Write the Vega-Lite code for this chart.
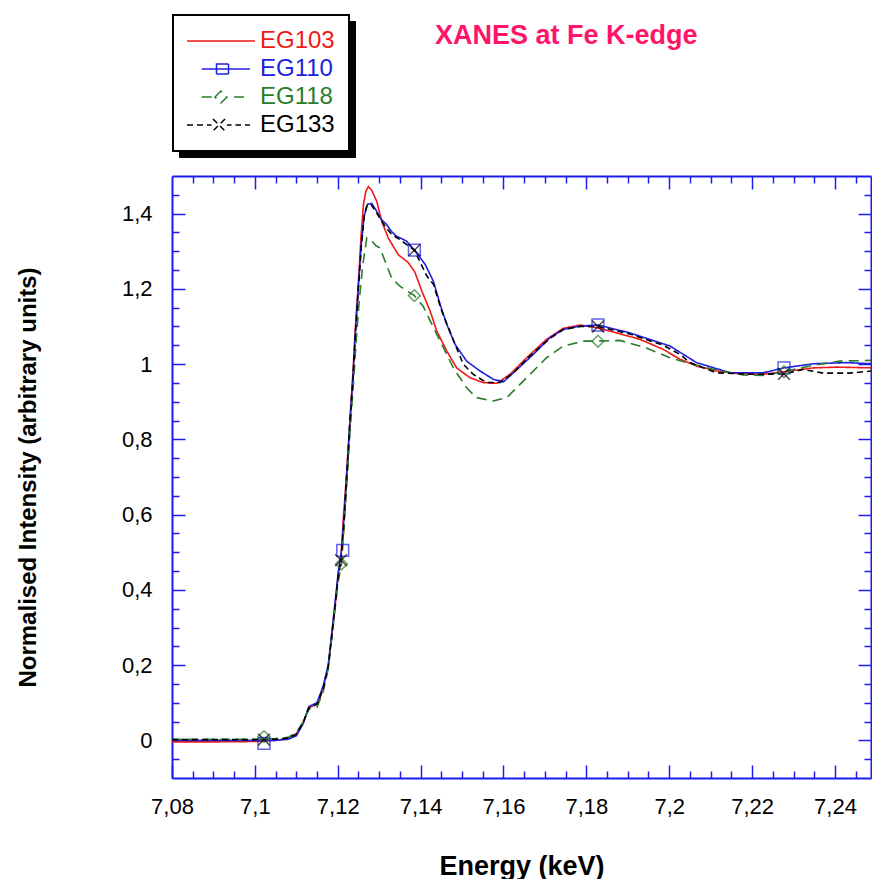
{
  "$schema": "https://vega.github.io/schema/vega-lite/v6.json",
  "width": 699,
  "height": 602,
  "autosize": {"type": "none"},
  "padding": {"left": 172, "top": 176, "right": 1, "bottom": 101},
  "background": "white",
  "config": {"view": {"stroke": null}},
  "title": {
    "text": "XANES at Fe K-edge",
    "anchor": "start",
    "frame": "group",
    "dx": 263,
    "offset": -36,
    "font": "Liberation Sans",
    "fontSize": 27,
    "fontWeight": "bold",
    "color": "#ff1469"
  },
  "datasets": {
    "curves": [
      {"series": "EG103", "E": 7.080, "I": -0.004},
      {"series": "EG103", "E": 7.090, "I": -0.004},
      {"series": "EG103", "E": 7.100, "I": -0.003},
      {"series": "EG103", "E": 7.105, "I": 0.000},
      {"series": "EG103", "E": 7.108, "I": 0.005},
      {"series": "EG103", "E": 7.110, "I": 0.018},
      {"series": "EG103", "E": 7.1117, "I": 0.050},
      {"series": "EG103", "E": 7.1130, "I": 0.085},
      {"series": "EG103", "E": 7.1145, "I": 0.095},
      {"series": "EG103", "E": 7.1155, "I": 0.105},
      {"series": "EG103", "E": 7.1165, "I": 0.140},
      {"series": "EG103", "E": 7.1177, "I": 0.195},
      {"series": "EG103", "E": 7.1185, "I": 0.270},
      {"series": "EG103", "E": 7.1193, "I": 0.350},
      {"series": "EG103", "E": 7.1201, "I": 0.440},
      {"series": "EG103", "E": 7.1208, "I": 0.495},
      {"series": "EG103", "E": 7.1213, "I": 0.580},
      {"series": "EG103", "E": 7.1222, "I": 0.720},
      {"series": "EG103", "E": 7.1230, "I": 0.858},
      {"series": "EG103", "E": 7.1236, "I": 0.964},
      {"series": "EG103", "E": 7.1242, "I": 1.088},
      {"series": "EG103", "E": 7.1250, "I": 1.220},
      {"series": "EG103", "E": 7.1256, "I": 1.335},
      {"series": "EG103", "E": 7.1262, "I": 1.424},
      {"series": "EG103", "E": 7.1268, "I": 1.460},
      {"series": "EG103", "E": 7.1274, "I": 1.472},
      {"series": "EG103", "E": 7.1282, "I": 1.462},
      {"series": "EG103", "E": 7.1294, "I": 1.433},
      {"series": "EG103", "E": 7.1306, "I": 1.380},
      {"series": "EG103", "E": 7.1322, "I": 1.335},
      {"series": "EG103", "E": 7.1346, "I": 1.291},
      {"series": "EG103", "E": 7.1370, "I": 1.270},
      {"series": "EG103", "E": 7.1386, "I": 1.245},
      {"series": "EG103", "E": 7.1403, "I": 1.194},
      {"series": "EG103", "E": 7.1423, "I": 1.141},
      {"series": "EG103", "E": 7.1439, "I": 1.088},
      {"series": "EG103", "E": 7.1463, "I": 1.035},
      {"series": "EG103", "E": 7.1487, "I": 0.990},
      {"series": "EG103", "E": 7.1519, "I": 0.964},
      {"series": "EG103", "E": 7.1551, "I": 0.951},
      {"series": "EG103", "E": 7.1584, "I": 0.949},
      {"series": "EG103", "E": 7.1616, "I": 0.973},
      {"series": "EG103", "E": 7.1656, "I": 1.017},
      {"series": "EG103", "E": 7.1704, "I": 1.066},
      {"series": "EG103", "E": 7.1744, "I": 1.095},
      {"series": "EG103", "E": 7.1785, "I": 1.104},
      {"series": "EG103", "E": 7.1825, "I": 1.097},
      {"series": "EG103", "E": 7.1873, "I": 1.083},
      {"series": "EG103", "E": 7.1929, "I": 1.066},
      {"series": "EG103", "E": 7.1986, "I": 1.039},
      {"series": "EG103", "E": 7.2026, "I": 1.013},
      {"series": "EG103", "E": 7.2066, "I": 0.995},
      {"series": "EG103", "E": 7.2114, "I": 0.982},
      {"series": "EG103", "E": 7.2163, "I": 0.975},
      {"series": "EG103", "E": 7.2227, "I": 0.973},
      {"series": "EG103", "E": 7.2291, "I": 0.982},
      {"series": "EG103", "E": 7.2348, "I": 0.990},
      {"series": "EG103", "E": 7.2404, "I": 0.992},
      {"series": "EG103", "E": 7.2490, "I": 0.990},

      {"series": "EG110", "E": 7.080, "I": 0.000},
      {"series": "EG110", "E": 7.100, "I": 0.000},
      {"series": "EG110", "E": 7.105, "I": 0.000},
      {"series": "EG110", "E": 7.108, "I": 0.003},
      {"series": "EG110", "E": 7.110, "I": 0.012},
      {"series": "EG110", "E": 7.1117, "I": 0.045},
      {"series": "EG110", "E": 7.1130, "I": 0.090},
      {"series": "EG110", "E": 7.1150, "I": 0.100},
      {"series": "EG110", "E": 7.1165, "I": 0.145},
      {"series": "EG110", "E": 7.1177, "I": 0.200},
      {"series": "EG110", "E": 7.1185, "I": 0.280},
      {"series": "EG110", "E": 7.1193, "I": 0.360},
      {"series": "EG110", "E": 7.1201, "I": 0.445},
      {"series": "EG110", "E": 7.1210, "I": 0.510},
      {"series": "EG110", "E": 7.1215, "I": 0.590},
      {"series": "EG110", "E": 7.1223, "I": 0.730},
      {"series": "EG110", "E": 7.1230, "I": 0.860},
      {"series": "EG110", "E": 7.1237, "I": 0.970},
      {"series": "EG110", "E": 7.1243, "I": 1.090},
      {"series": "EG110", "E": 7.1250, "I": 1.210},
      {"series": "EG110", "E": 7.1257, "I": 1.320},
      {"series": "EG110", "E": 7.1264, "I": 1.395},
      {"series": "EG110", "E": 7.1272, "I": 1.425},
      {"series": "EG110", "E": 7.1282, "I": 1.427},
      {"series": "EG110", "E": 7.1292, "I": 1.410},
      {"series": "EG110", "E": 7.1305, "I": 1.385},
      {"series": "EG110", "E": 7.1318, "I": 1.371},
      {"series": "EG110", "E": 7.1330, "I": 1.352},
      {"series": "EG110", "E": 7.1342, "I": 1.340},
      {"series": "EG110", "E": 7.1366, "I": 1.327},
      {"series": "EG110", "E": 7.1385, "I": 1.303},
      {"series": "EG110", "E": 7.1411, "I": 1.265},
      {"series": "EG110", "E": 7.1431, "I": 1.220},
      {"series": "EG110", "E": 7.1447, "I": 1.159},
      {"series": "EG110", "E": 7.1463, "I": 1.106},
      {"series": "EG110", "E": 7.1483, "I": 1.053},
      {"series": "EG110", "E": 7.1511, "I": 1.008},
      {"series": "EG110", "E": 7.1543, "I": 0.982},
      {"series": "EG110", "E": 7.1575, "I": 0.960},
      {"series": "EG110", "E": 7.1600, "I": 0.953},
      {"series": "EG110", "E": 7.1632, "I": 0.985},
      {"series": "EG110", "E": 7.1672, "I": 1.026},
      {"series": "EG110", "E": 7.1712, "I": 1.070},
      {"series": "EG110", "E": 7.1744, "I": 1.092},
      {"series": "EG110", "E": 7.1785, "I": 1.101},
      {"series": "EG110", "E": 7.1828, "I": 1.104},
      {"series": "EG110", "E": 7.1905, "I": 1.083},
      {"series": "EG110", "E": 7.2002, "I": 1.048},
      {"series": "EG110", "E": 7.2066, "I": 1.004},
      {"series": "EG110", "E": 7.2147, "I": 0.977},
      {"series": "EG110", "E": 7.2227, "I": 0.977},
      {"series": "EG110", "E": 7.2277, "I": 0.990},
      {"series": "EG110", "E": 7.2348, "I": 1.001},
      {"series": "EG110", "E": 7.2428, "I": 1.004},
      {"series": "EG110", "E": 7.2490, "I": 1.001},

      {"series": "EG118", "E": 7.080, "I": 0.003},
      {"series": "EG118", "E": 7.100, "I": 0.003},
      {"series": "EG118", "E": 7.105, "I": 0.005},
      {"series": "EG118", "E": 7.108, "I": 0.008},
      {"series": "EG118", "E": 7.110, "I": 0.020},
      {"series": "EG118", "E": 7.1117, "I": 0.050},
      {"series": "EG118", "E": 7.1130, "I": 0.082},
      {"series": "EG118", "E": 7.1150, "I": 0.088},
      {"series": "EG118", "E": 7.1165, "I": 0.130},
      {"series": "EG118", "E": 7.1177, "I": 0.190},
      {"series": "EG118", "E": 7.1185, "I": 0.265},
      {"series": "EG118", "E": 7.1193, "I": 0.345},
      {"series": "EG118", "E": 7.1201, "I": 0.420},
      {"series": "EG118", "E": 7.1209, "I": 0.469},
      {"series": "EG118", "E": 7.1215, "I": 0.560},
      {"series": "EG118", "E": 7.1223, "I": 0.700},
      {"series": "EG118", "E": 7.1231, "I": 0.840},
      {"series": "EG118", "E": 7.1238, "I": 0.950},
      {"series": "EG118", "E": 7.1245, "I": 1.070},
      {"series": "EG118", "E": 7.1252, "I": 1.170},
      {"series": "EG118", "E": 7.1260, "I": 1.260},
      {"series": "EG118", "E": 7.1270, "I": 1.335},
      {"series": "EG118", "E": 7.1280, "I": 1.330},
      {"series": "EG118", "E": 7.1292, "I": 1.315},
      {"series": "EG118", "E": 7.1302, "I": 1.309},
      {"series": "EG118", "E": 7.1314, "I": 1.274},
      {"series": "EG118", "E": 7.1330, "I": 1.229},
      {"series": "EG118", "E": 7.1350, "I": 1.207},
      {"series": "EG118", "E": 7.1385, "I": 1.182},
      {"series": "EG118", "E": 7.1406, "I": 1.154},
      {"series": "EG118", "E": 7.1431, "I": 1.097},
      {"series": "EG118", "E": 7.1455, "I": 1.044},
      {"series": "EG118", "E": 7.1479, "I": 0.990},
      {"series": "EG118", "E": 7.1511, "I": 0.937},
      {"series": "EG118", "E": 7.1535, "I": 0.911},
      {"series": "EG118", "E": 7.1575, "I": 0.902},
      {"series": "EG118", "E": 7.1608, "I": 0.911},
      {"series": "EG118", "E": 7.1656, "I": 0.964},
      {"series": "EG118", "E": 7.1704, "I": 1.017},
      {"series": "EG118", "E": 7.1744, "I": 1.048},
      {"series": "EG118", "E": 7.1793, "I": 1.061},
      {"series": "EG118", "E": 7.1828, "I": 1.061},
      {"series": "EG118", "E": 7.1881, "I": 1.063},
      {"series": "EG118", "E": 7.1945, "I": 1.043},
      {"series": "EG118", "E": 7.2002, "I": 1.017},
      {"series": "EG118", "E": 7.2042, "I": 1.004},
      {"series": "EG118", "E": 7.2106, "I": 0.986},
      {"series": "EG118", "E": 7.2179, "I": 0.971},
      {"series": "EG118", "E": 7.2227, "I": 0.970},
      {"series": "EG118", "E": 7.2277, "I": 0.980},
      {"series": "EG118", "E": 7.2348, "I": 0.997},
      {"series": "EG118", "E": 7.2412, "I": 1.008},
      {"series": "EG118", "E": 7.2490, "I": 1.010},

      {"series": "EG133", "E": 7.080, "I": 0.002},
      {"series": "EG133", "E": 7.100, "I": 0.002},
      {"series": "EG133", "E": 7.105, "I": 0.003},
      {"series": "EG133", "E": 7.108, "I": 0.006},
      {"series": "EG133", "E": 7.110, "I": 0.016},
      {"series": "EG133", "E": 7.1117, "I": 0.048},
      {"series": "EG133", "E": 7.1130, "I": 0.086},
      {"series": "EG133", "E": 7.1150, "I": 0.096},
      {"series": "EG133", "E": 7.1165, "I": 0.138},
      {"series": "EG133", "E": 7.1177, "I": 0.195},
      {"series": "EG133", "E": 7.1185, "I": 0.272},
      {"series": "EG133", "E": 7.1193, "I": 0.352},
      {"series": "EG133", "E": 7.1201, "I": 0.435},
      {"series": "EG133", "E": 7.1208, "I": 0.479},
      {"series": "EG133", "E": 7.1215, "I": 0.580},
      {"series": "EG133", "E": 7.1223, "I": 0.725},
      {"series": "EG133", "E": 7.1230, "I": 0.855},
      {"series": "EG133", "E": 7.1237, "I": 0.965},
      {"series": "EG133", "E": 7.1243, "I": 1.085},
      {"series": "EG133", "E": 7.1250, "I": 1.205},
      {"series": "EG133", "E": 7.1257, "I": 1.315},
      {"series": "EG133", "E": 7.1264, "I": 1.395},
      {"series": "EG133", "E": 7.1270, "I": 1.420},
      {"series": "EG133", "E": 7.1280, "I": 1.425},
      {"series": "EG133", "E": 7.1292, "I": 1.405},
      {"series": "EG133", "E": 7.1314, "I": 1.366},
      {"series": "EG133", "E": 7.1330, "I": 1.345},
      {"series": "EG133", "E": 7.1350, "I": 1.331},
      {"series": "EG133", "E": 7.1385, "I": 1.303},
      {"series": "EG133", "E": 7.1415, "I": 1.234},
      {"series": "EG133", "E": 7.1431, "I": 1.212},
      {"series": "EG133", "E": 7.1451, "I": 1.141},
      {"series": "EG133", "E": 7.1467, "I": 1.097},
      {"series": "EG133", "E": 7.1483, "I": 1.053},
      {"series": "EG133", "E": 7.1503, "I": 1.000},
      {"series": "EG133", "E": 7.1527, "I": 0.973},
      {"series": "EG133", "E": 7.1559, "I": 0.951},
      {"series": "EG133", "E": 7.1592, "I": 0.951},
      {"series": "EG133", "E": 7.1624, "I": 0.977},
      {"series": "EG133", "E": 7.1664, "I": 1.022},
      {"series": "EG133", "E": 7.1712, "I": 1.068},
      {"series": "EG133", "E": 7.1744, "I": 1.092},
      {"series": "EG133", "E": 7.1785, "I": 1.100},
      {"series": "EG133", "E": 7.1828, "I": 1.100},
      {"series": "EG133", "E": 7.1905, "I": 1.080},
      {"series": "EG133", "E": 7.1986, "I": 1.050},
      {"series": "EG133", "E": 7.2026, "I": 1.026},
      {"series": "EG133", "E": 7.2050, "I": 1.004},
      {"series": "EG133", "E": 7.2114, "I": 0.977},
      {"series": "EG133", "E": 7.2195, "I": 0.973},
      {"series": "EG133", "E": 7.2277, "I": 0.974},
      {"series": "EG133", "E": 7.2323, "I": 0.986},
      {"series": "EG133", "E": 7.2372, "I": 0.976},
      {"series": "EG133", "E": 7.2436, "I": 0.976},
      {"series": "EG133", "E": 7.2490, "I": 0.982}
    ],
    "markers": [
      {"series": "EG110", "E": 7.1022, "I": -0.008},
      {"series": "EG110", "E": 7.1212, "I": 0.505},
      {"series": "EG110", "E": 7.1385, "I": 1.303},
      {"series": "EG110", "E": 7.1828, "I": 1.104},
      {"series": "EG110", "E": 7.2277, "I": 0.990},
      {"series": "EG118", "E": 7.1022, "I": 0.010},
      {"series": "EG118", "E": 7.1209, "I": 0.469},
      {"series": "EG118", "E": 7.1385, "I": 1.182},
      {"series": "EG118", "E": 7.1828, "I": 1.061},
      {"series": "EG118", "E": 7.2277, "I": 0.980},
      {"series": "EG133", "E": 7.1022, "I": 0.002},
      {"series": "EG133", "E": 7.1208, "I": 0.479},
      {"series": "EG133", "E": 7.1385, "I": 1.303},
      {"series": "EG133", "E": 7.1828, "I": 1.100},
      {"series": "EG133", "E": 7.2277, "I": 0.974}
    ]
  },
  "layer": [
    {
      "data": {"name": "curves"},
      "mark": {"type": "line", "strokeWidth": 1.6, "clip": true},
      "encoding": {
        "x": {
          "field": "E", "type": "quantitative",
          "scale": {"domain": [7.08, 7.2487], "nice": false, "zero": false},
          "axis": {
            "orient": "bottom",
            "values": [7.08, 7.1, 7.12, 7.14, 7.16, 7.18, 7.2, 7.22, 7.24],
            "labelExpr": "replace(format(datum.value, '.2~f'), '.', ',')",
            "grid": false,
            "tickSize": -13, "tickWidth": 1.5, "tickColor": "#1c1cf0",
            "domainColor": "#1c1cf0", "domainWidth": 2,
            "labelFont": "Liberation Sans", "labelFontSize": 22, "labelColor": "black",
            "labelPadding": 31, "labelFlush": false, "labelOverlap": false,
            "title": "Energy (keV)",
            "titleFont": "Liberation Sans", "titleFontSize": 27, "titleFontWeight": "bold", "titleColor": "black",
            "titleX": 349.5, "titleY": 88, "titleBaseline": "middle", "titleAlign": "center"
          }
        },
        "y": {
          "field": "I", "type": "quantitative",
          "scale": {"domain": [-0.1, 1.5], "nice": false, "zero": false},
          "axis": {
            "orient": "left",
            "values": [0, 0.2, 0.4, 0.6, 0.8, 1, 1.2, 1.4],
            "labelExpr": "replace(format(datum.value, '.1~f'), '.', ',')",
            "grid": false,
            "tickSize": -13, "tickWidth": 1.5, "tickColor": "#1c1cf0",
            "domainColor": "#1c1cf0", "domainWidth": 2,
            "labelFont": "Liberation Sans", "labelFontSize": 22, "labelColor": "black",
            "labelPadding": 33, "labelFlush": false, "labelOverlap": false,
            "title": "Normalised Intensity (arbitrary units)",
            "titleFont": "Liberation Sans", "titleFontSize": 24, "titleFontWeight": "bold", "titleColor": "black",
            "titleX": -144, "titleY": 301, "titleBaseline": "middle", "titleAlign": "center", "titleAngle": -90
          }
        },
        "color": {
          "field": "series", "type": "nominal",
          "scale": {"domain": ["EG103", "EG110", "EG118", "EG133"], "range": ["#f01818", "#2020e0", "#2a7d2a", "#000000"]},
          "legend": {
            "orient": "none", "legendX": 1, "legendY": -161,
            "zindex": 2,
            "title": null,
            "direction": "vertical",
            "padding": 14,
            "rowPadding": 4,
            "fillColor": "white",
            "strokeColor": "black",
            "symbolSize": 100,
            "labelOffset": 49,
            "labelFont": "Liberation Sans",
            "labelFontSize": 24,
            "labelLimit": 200,
            "encode": {
              "legend": {"update": {"strokeWidth": {"value": 2}}},
              "symbols": {"update": {
                "shape": {"signal": "datum.value === 'EG103' ? 'M-2.4,0H11.2' : datum.value === 'EG110' ? 'M0.54,0H10.2M3.5,-1H5.9V1H3.5Z' : datum.value === 'EG118' ? 'M0.54,0H3.2M3.2,0L4.4,-1.2L5.6,0L4.4,1.2ZM7,0H10.2' : 'M-2.4,0H-1.2M-0.4,0H0.8M1.6,0H2.5M2.8,-1.2L5.2,1.2M5.2,-1.2L2.8,1.2M5.6,0H6.5M7.3,0H8.4M9.2,0H10.2'"},
                "stroke": {"scale": "color", "field": "value"},
                "strokeDash": {"value": [1, 0]},
                "fill": {"value": "transparent"},
                "strokeWidth": {"value": 1.5},
                "size": {"value": 100}
              }},
              "labels": {"update": {"fill": {"scale": "color", "field": "value"}}}
            }
          }
        },
        "strokeDash": {
          "field": "series", "type": "nominal",
          "scale": {"domain": ["EG103", "EG110", "EG118", "EG133"], "range": [[1, 0], [1, 0], [10, 6], [6, 4]]},
          "legend": null
        }
      }
    },
    {
      "data": {"name": "markers"},
      "mark": {"type": "point", "filled": false, "strokeWidth": 1.5, "size": 140, "clip": true},
      "encoding": {
        "x": {
          "field": "E", "type": "quantitative",
          "axis": {
            "orient": "bottom",
            "values": [7.085, 7.09, 7.095, 7.105, 7.11, 7.115, 7.125, 7.13, 7.135, 7.145, 7.15, 7.155, 7.165, 7.17, 7.175, 7.185, 7.19, 7.195, 7.205, 7.21, 7.215, 7.225, 7.23, 7.235, 7.245],
            "labels": false, "domain": false, "grid": false, "title": null,
            "tickSize": -7, "tickWidth": 1.5, "tickColor": "#1c1cf0"
          }
        },
        "y": {
          "field": "I", "type": "quantitative",
          "axis": {
            "orient": "left",
            "values": [-0.05, 0.05, 0.1, 0.15, 0.25, 0.3, 0.35, 0.45, 0.5, 0.55, 0.65, 0.7, 0.75, 0.85, 0.9, 0.95, 1.05, 1.1, 1.15, 1.25, 1.3, 1.35, 1.45],
            "labels": false, "domain": false, "grid": false, "title": null,
            "tickSize": -7, "tickWidth": 1.5, "tickColor": "#1c1cf0"
          }
        },
        "stroke": {
          "field": "series", "type": "nominal",
          "scale": {"domain": ["EG110", "EG118", "EG133"], "range": ["#2020e0", "#2a7d2a", "#000000"]},
          "legend": null
        },
        "shape": {
          "field": "series", "type": "nominal",
          "scale": {"domain": ["EG110", "EG118", "EG133"], "range": ["square", "diamond", "M-1,-1L1,1M1,-1L-1,1"]},
          "legend": null
        }
      }
    },
    {
      "data": {"name": "markers"},
      "mark": {"type": "point", "opacity": 0},
      "encoding": {
        "x": {
          "field": "E", "type": "quantitative",
          "axis": {
            "orient": "top",
            "values": [7.1, 7.12, 7.14, 7.16, 7.18, 7.2, 7.22, 7.24],
            "labels": false, "grid": false, "title": null,
            "tickSize": -13, "tickWidth": 1.5, "tickColor": "#1c1cf0",
            "domainColor": "#1c1cf0", "domainWidth": 2
          }
        },
        "y": {
          "field": "I", "type": "quantitative",
          "axis": {
            "orient": "right",
            "values": [0, 0.2, 0.4, 0.6, 0.8, 1, 1.2, 1.4],
            "labels": false, "grid": false, "title": null,
            "tickSize": -13, "tickWidth": 1.5, "tickColor": "#1c1cf0",
            "domainColor": "#1c1cf0", "domainWidth": 2
          }
        },
        "fill": {
          "field": "series", "type": "nominal",
          "scale": {"domain": ["EG110", "EG118", "EG133", "EG103"], "range": ["#000000", "#000000", "#000000", "#000000"]},
          "legend": {
            "orient": "none", "legendX": 7, "legendY": -155,
            "zindex": 1,
            "title": null,
            "direction": "vertical",
            "padding": 14,
            "rowPadding": 4,
            "fillColor": "black",
            "strokeColor": "black",
            "symbolSize": 100,
            "symbolType": "M-2.4,0H27.2",
            "symbolOpacity": 0,
            "labelExpr": "''",
            "labelOffset": 49,
            "labelFont": "Liberation Sans",
            "labelFontSize": 24
          }
        }
      }
    },
    {
      "data": {"name": "markers"},
      "mark": {"type": "point", "opacity": 0},
      "encoding": {
        "x": {
          "field": "E", "type": "quantitative",
          "axis": {
            "orient": "top",
            "values": [7.085, 7.09, 7.095, 7.105, 7.11, 7.115, 7.125, 7.13, 7.135, 7.145, 7.15, 7.155, 7.165, 7.17, 7.175, 7.185, 7.19, 7.195, 7.205, 7.21, 7.215, 7.225, 7.23, 7.235, 7.245],
            "labels": false, "domain": false, "grid": false, "title": null,
            "tickSize": -7, "tickWidth": 1.5, "tickColor": "#1c1cf0"
          }
        },
        "y": {
          "field": "I", "type": "quantitative",
          "axis": {
            "orient": "right",
            "values": [-0.05, 0.05, 0.1, 0.15, 0.25, 0.3, 0.35, 0.45, 0.5, 0.55, 0.65, 0.7, 0.75, 0.85, 0.9, 0.95, 1.05, 1.1, 1.15, 1.25, 1.3, 1.35, 1.45],
            "labels": false, "domain": false, "grid": false, "title": null,
            "tickSize": -7, "tickWidth": 1.5, "tickColor": "#1c1cf0"
          }
        }
      }
    }
  ],
  "resolve": {"axis": {"x": "independent", "y": "independent"}}
}
